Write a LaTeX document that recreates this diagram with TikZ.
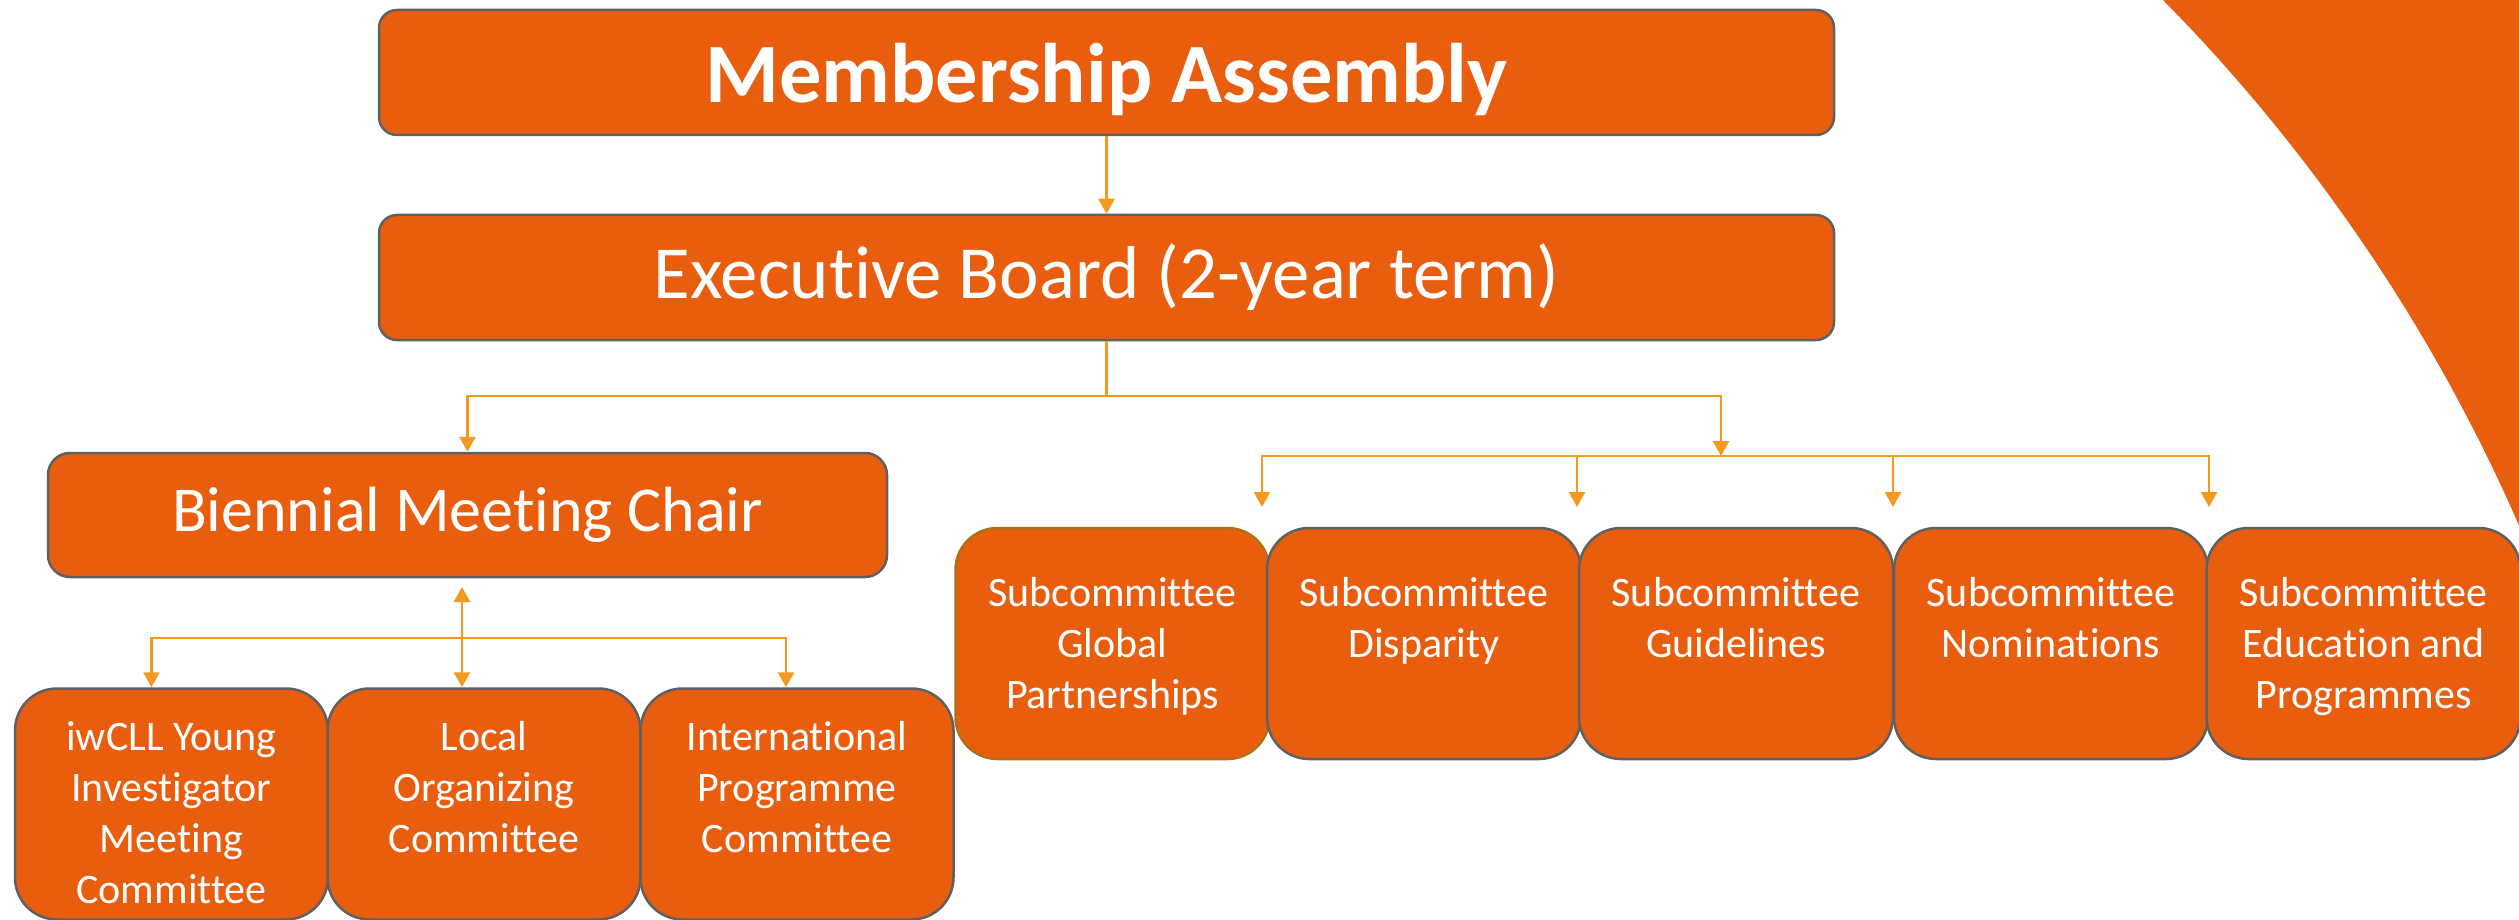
\documentclass[tikz,border=0pt]{standalone}
\usepackage{fontspec}
\setmainfont{Carlito}[Ligatures=NoCommon]
\usetikzlibrary{positioning,arrows.meta}
\definecolor{boxorange}{RGB}{233,93,14}
\definecolor{linkorange}{RGB}{242,153,30}
\definecolor{edgegray}{RGB}{96,96,96}
\definecolor{edgebrown}{RGB}{176,112,24}

\begin{document}
\begin{tikzpicture}[x=1pt,y=-1pt,
    topbox/.style={draw=edgegray,line width=2.5pt,fill=boxorange,text=white,
      rounded corners=18pt,minimum width=1455pt,minimum height=125pt},
    chairbox/.style={topbox,rounded corners=22pt,minimum width=839pt,minimum height=124pt},
    unitbox/.style={draw=edgegray,line width=2.5pt,fill=boxorange,
      rounded corners=42pt,minimum width=314pt,minimum height=231pt},
    unittext/.style={text=white,align=center,inner sep=0pt,
      font=\fontsize{42}{51}\selectfont},
    link/.style={draw=linkorange,line width=2.5pt,-{Triangle[length=15pt,width=16pt]}},
    twolink/.style={link,{Triangle[length=15pt,width=16pt]}-{Triangle[length=15pt,width=16pt]}},
  ]
  \useasboundingbox (0,0) rectangle (2519,920);
  % corner swoosh
  \fill[boxorange] (2163,0) arc[start angle=-44.6,end angle=-23,radius=1743] -- (2530,0) -- cycle;

  % top of the tree
  \node[topbox,text depth=0pt,font=\fontsize{84.5}{100}\selectfont\bfseries] (assembly) at (1106.5,72.5) {Membership Assembly};
  \node[topbox,font=\fontsize{75}{90}\selectfont] (board) at (1106.5,277.5) {Executive Board (2-year term)};
  \node[chairbox,font=\fontsize{64}{77}\selectfont] (chair) at (467.5,515) {Biennial Meeting Chair};

  % meeting committees
  \node[unitbox,minimum width=313pt] (young) at (171.5,804) {};
  \node[unitbox,minimum width=313pt] (local) at (484,804) {};
  \node[unitbox,minimum width=313pt] (programme) at (797,804) {};
  \node[unittext,below=34pt of young.north] (youngtxt) {iwCLL Young\\Investigator\\Meeting\\Committee};
  \node[unittext,below=34pt of local.north] (localtxt) {Local\\Organizing\\Committee};
  \node[unittext,below=34pt of programme.north] (programmetxt) {International\\Programme\\Committee};

  % subcommittees
  \node[unitbox,draw=edgebrown] (global) at (1112.5,643.5) {};
  \node[unitbox] (disparity) at (1424,643.5) {};
  \node[unitbox] (guidelines) at (1736,643.5) {};
  \node[unitbox] (nominations) at (2051,643.5) {};
  \node[unitbox] (education) at (2363.5,643.5) {};
  \node[unittext,below=50pt of global.north] (globaltxt) {Subcommittee\\Global\\Partnerships};
  \node[unittext,below=50pt of disparity.north] (disparitytxt) {Subcommittee\\Disparity};
  \node[unittext,below=50pt of guidelines.north] (guidelinestxt) {Subcommittee\\Guidelines};
  \node[unittext,below=50pt of nominations.north] (nominationstxt) {Subcommittee\\Nominations};
  \node[unittext,below=50pt of education.north] (educationtxt) {Subcommittee\\Education and\\Programmes};

  % connectors
  \coordinate (split) at (1106.5,396);
  \coordinate (subhub) at (1721,456);
  \coordinate (chairtip) at (462,587);
  \coordinate (meethub) at (462,638);
  \foreach \n/\x in {1/1262,2/1577,3/1893,4/2209}
    \coordinate (drop\n) at (\x,507);

  \draw[link] (assembly) -- (board);
  \draw[link] (board.south) -- (split) -| (chair.north);
  \draw[link] (split) -| (subhub);
  \foreach \n in {1,...,4}
    \draw[link] (subhub) -| (drop\n);
  \draw[twolink] (chairtip) -- (chairtip |- local.north);
  \draw[link] (meethub) -| ([xshift=-20pt]young.north);
  \draw[link] (meethub) -| ([xshift=-11pt]programme.north);
\end{tikzpicture}
\end{document}
